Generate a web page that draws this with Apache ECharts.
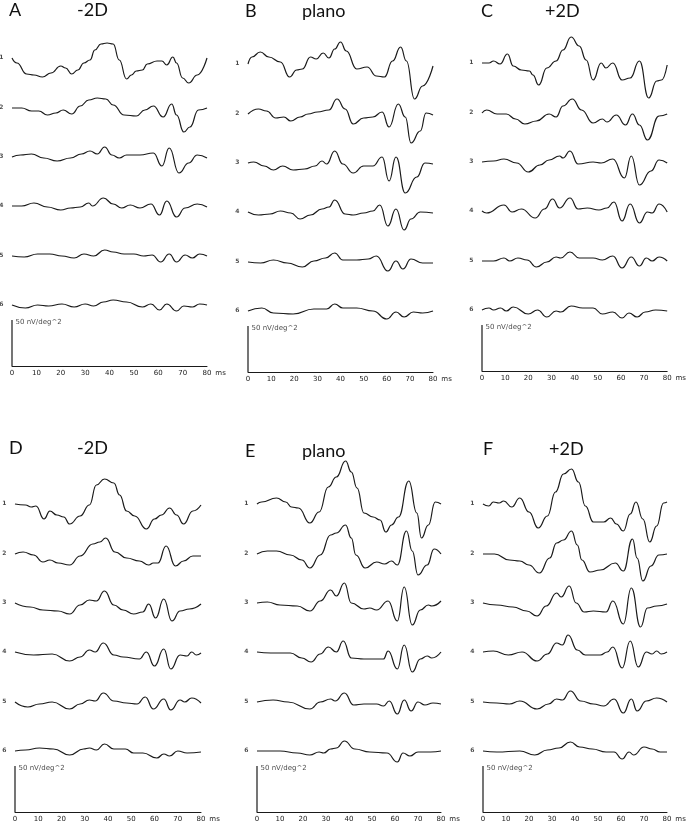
<!DOCTYPE html>
<html>
<head>
<meta charset="utf-8">
<script src="https://cdn.jsdelivr.net/npm/echarts@6/dist/echarts.min.js"></script>
<style>
  html, body { margin: 0; padding: 0; background: #fff; }
  #chart { width: 687px; height: 824px; }
</style>
</head>
<body>
<div id="chart"></div>
<script>
// tick labels on the time axis (ms)
const timeMin = 0;
const timeMax = 80;
const timeStep = 10;
const traceNames = ['1', '2', '3', '4', '5', '6'];
// height of each ring's baseline above the time axis
const traceOffsets = [308, 258, 209, 160, 110, 61];
const scaleBar = 46;
const scaleLabel = '50 nV/deg^2';

const panelLetters = ['A', 'B', 'C', 'D', 'E', 'F'];
const panelLenses = ['-2D', 'plano', '+2D', '-2D', 'plano', '+2D'];

// traces: [time ms, amplitude]
// A  -2D
const a1 = [[0,0],[2,-5],[6,-16],[9,-17],[12.5,-19],[16,-15],[20,-8],[22,-10],[24.5,-16],[27,-12],[29.5,-5],[32,-2],[34,8],[36.5,14],[39,15],[41.5,14],[44,-2],[47,-21],[49,-17],[51,-13],[53.5,-12],[55.5,-6],[59.5,-3],[61.5,-3],[63.5,-7],[66,1],[67.5,-5],[70,-20],[72.5,-25],[76,-17],[80,0]];
const a2 = [[0,0],[4,0],[8,-3],[11,-3],[14.5,-7],[18,-5],[21,-2],[24.5,-6],[28,2],[31.5,8],[35,10],[38.5,9],[41.5,3],[46,-7],[51,-8],[54.5,-2],[58,2],[62,-9],[65.5,4],[67.5,-7],[70.5,-24],[73,-19],[76.5,-2],[80,0]];
const a3 = [[0,0],[3.5,2],[8,3],[13,-1],[18.5,-4],[24,-1],[28.5,3],[32,6],[35,3],[38,10],[41,2],[44,-1],[47,2],[52.5,2],[58,4],[61.5,-9],[64.5,9],[68.5,-16],[72.5,-6],[76,2],[80,-1]];
const a4 = [[0,0],[4,0],[9,3],[14.5,-1],[20,-4],[24,-2],[28,-1],[31.5,3],[33,0],[37.5,8],[41.5,2],[45,-2],[48.5,1],[52.5,-2],[57,2],[60.5,-9],[63.5,5],[67.5,-11],[71,-2],[76,2],[80,-1]];
const a5 = [[0,0],[5,-1],[10.5,2],[15.5,2],[20.5,0],[25.5,-2],[29.5,2],[33.5,0],[38,6],[41.5,4],[46,2],[50,2],[54,0],[57.5,1],[61,-6],[64.5,2],[67.5,-6],[71,1],[74,-2],[77,2],[80,0]];
const a6 = [[0,0],[5.5,-3],[10.5,0],[15,-1],[20.5,1],[25.5,-2],[30,1],[33.5,-1],[37.5,3],[41.5,5],[47,3],[53.5,-2],[57,1],[60.5,-5],[63.5,1],[67.5,-6],[70.5,-1],[74,-2],[77,1],[80,0]];
// B  plano
const b1 = [[0,0],[1.7,7],[5.3,12],[9,7],[14,2],[18,-13],[21,-6],[23.5,-5],[27,7],[29.5,5],[32.5,11],[35,6],[37.5,15],[40,22],[42.5,13],[47,-5],[51.5,-3],[55.5,-12],[59,-13],[62.5,3],[66,17],[68.5,3],[72,-35],[75.5,-22],[80,-2]];
const b2 = [[0,0],[4.5,5],[8,3],[12,-4],[15.5,-3],[18.5,-7],[22.5,-3],[26,0],[30,2],[35,4],[38.5,15],[42,5],[45.5,-10],[50,-4],[54,-3],[58,2],[61,-13],[65,10],[68,-3],[70.5,-29],[74.5,-17],[77,1],[80,-1]];
const b3 = [[0,0],[2.5,1],[7,-3],[11,-7],[15,-3],[19.5,-7],[24.5,-6],[29,-3],[32,2],[34,-1],[37.5,12],[41,-1],[45.5,-10],[50,-3],[54,-3],[58,6],[61,-18],[64,6],[68,-30],[73,-14],[76.5,0],[80,-1]];
const b4 = [[0,0],[4.5,-3],[9.5,-2],[14,1],[18.5,-1],[22.5,-7],[27,-3],[32,3],[35,5],[37.5,12],[42,-2],[45.5,-3],[50,-1],[54,1],[57,7],[60.5,-14],[64,3],[67.5,-18],[70.5,-7],[74.5,0],[80,-1]];
const b5 = [[0,0],[5.5,-1],[11,2],[17,-1],[23.5,-5],[28.5,1],[33.5,4],[37.5,9],[41,2],[47,2],[52,3],[55.5,6],[60.5,-9],[64,1],[67,-7],[70.5,3],[75.5,-1],[80,-1]];
const b6 = [[0,0],[6,3],[11,-2],[19.5,-3],[28.5,2],[34,2],[37.5,7],[41,3],[47,3],[54,0],[60,-8],[64,-1],[67.5,-6],[71.5,-1],[75.5,-2],[80,0]];
// C  +2D
const c1 = [[0,0],[3,0],[5,2],[7.8,-1],[11,9],[13.5,-3],[17,-7],[20.5,-8],[22,-12],[24.5,-22],[28,-5],[32,2],[35,13],[38.5,26],[42,17],[45,3],[48,-17],[51.5,0],[53.5,-5],[56.5,0],[60.5,-17],[64,-15],[68,2],[72,-35],[75.5,-18],[77.5,-17],[80,-2]];
const c2 = [[0,0],[2,3],[6.5,-1],[10.5,-1],[14.5,-6],[18.5,-11],[23.5,-8],[29,-1],[32,-4],[35,7],[39,14],[43,3],[48,-10],[52,-6],[54,-9],[58,-2],[62,-12],[65,-1],[68,-12],[71.5,-27],[76.5,-3],[80,-1]];
const c3 = [[0,0],[5,1],[9.5,3],[15,-1],[20,-10],[25,-3],[29,2],[33.5,6],[35,4],[38,11],[41.5,-2],[48,0],[51.5,-1],[56.5,3],[61.5,-16],[64.5,6],[68,-23],[73,-9],[76.5,2],[80,-1]];
const c4 = [[0,0],[2,-2],[9.5,6],[13,-1],[17,2],[23,-7],[27,2],[30.5,12],[33.5,3],[38,13],[41.5,2],[45.5,3],[50.5,1],[54,3],[57,9],[60.5,-10],[64,7],[68,-12],[71.5,-1],[73.5,-2],[76.5,7],[80,-1]];
const c5 = [[0,0],[5,0],[9.5,3],[12,0],[15.5,3],[19.5,1],[23.5,-6],[28,-1],[32,4],[34,3],[38,9],[42,3],[48,3],[52,1],[56.5,5],[60.5,-7],[64.5,4],[68,-5],[71,3],[73.5,0],[76.5,4],[80,0]];
const c6 = [[0,0],[3,2],[5,0],[8,2],[10.5,-1],[13.5,3],[20,-4],[24,0],[28,-7],[32,-1],[34,-2],[38.5,4],[43.5,2],[48,2],[52,-4],[56.5,-2],[60.5,-8],[63.5,-3],[67,-7],[70.5,-2],[75,0],[80,-1]];
// D  -2D
const d1 = [[0,0],[4.5,-1],[7,-3],[9,-2],[12.5,-15],[15,-7],[18,-11],[21,-13],[23.5,-20],[28,-12],[32,-1],[35,19],[38.5,25],[42.5,21],[45,9],[48,-7],[51.5,-12],[56.5,-25],[60,-15],[63,-11],[66.5,-4],[69.5,-11],[72.5,-20],[76.5,-7],[80,-1]];
const d2 = [[0,0],[3.5,2],[8,-1],[12,-8],[15,-6],[18.5,-9],[23.5,-11],[28,-2],[33.5,10],[36.5,12],[39,16],[43,2],[48,-4],[53.5,-7],[57.5,-11],[59.5,-9],[61.5,-9],[65,8],[69,-12],[72.5,-7],[76.5,-2],[80,-2]];
const d3 = [[0,0],[6.5,-4],[12,-7],[18.5,-8],[23.5,-11],[28,-2],[32,3],[35,2],[38.5,12],[42.5,-2],[46.5,-7],[51,-11],[55,-9],[57.5,-1],[60.5,-15],[64,4],[67.5,-18],[71,-8],[75,-6],[80,-1]];
const d4 = [[0,0],[8,-3],[16,-2],[23.5,-9],[28,-5],[32,2],[34.5,0],[38,9],[42.5,-3],[46.5,-5],[53.5,-7],[56.5,0],[60,-14],[64,3],[67,-17],[71,-3],[74,-4],[76,0],[78,-3],[80,-1]];
const d5 = [[0,0],[5.5,-5],[10.5,-2],[16,0],[23.5,-7],[28,-2],[32,2],[34.5,1],[38,9],[42.5,1],[48,-1],[52.5,-2],[56,5],[59.5,-7],[64,3],[67,-8],[71,2],[73,0],[76,4],[80,-1]];
const d6 = [[0,0],[4.5,1],[10.5,3],[16.5,2],[23.5,-4],[29.5,2],[32,3],[35,1],[38.5,7],[42.5,2],[47.5,2],[51,-2],[55,-2],[61,-7],[64,-3],[66.5,-5],[70,0],[74,-2],[80,-1]];
// E  plano
const e1 = [[0,0],[2,2],[8.5,6],[12.5,2],[15,-3],[18,-4],[23,-19],[27,-8],[31,17],[34.5,27],[38.5,43],[41,32],[43.5,16],[46.5,-9],[50.5,-13],[53.5,-16],[56,-28],[58.5,-21],[61.5,-13],[66,23],[69.5,-9],[71.5,-34],[74.5,-21],[77.5,2],[80,0]];
const e2 = [[0,0],[4.5,3],[8.5,3],[14.5,-1],[19.5,-6],[23,-14],[27.5,-1],[32,19],[34.5,21],[38.5,29],[41,16],[43,-1],[47,-14],[52,-8],[55.5,-10],[58.5,-7],[61,-11],[65,23],[67.5,3],[70,-21],[74,-11],[77,5],[80,0]];
const e3 = [[0,0],[4.5,1],[10,-2],[17.5,-3],[23,-8],[27.5,2],[32,13],[34.5,7],[38,20],[41,0],[46.5,-6],[49,-5],[52,-7],[57,2],[61,-18],[64,16],[67.5,-22],[71,-7],[74.5,-2],[76,-3],[80,2]];
const e4 = [[0,0],[6,-1],[14.5,-1],[19.5,-6],[23.5,-10],[27.5,-2],[31,5],[34.5,0],[37.5,11],[41,-6],[46.5,-7],[52,-7],[55,-7],[57,1],[61,-17],[64,7],[67.5,-20],[71,-7],[74,-4],[76,-6],[80,0]];
const e5 = [[0,0],[7,2],[13.5,0],[23,-7],[27.5,0],[32,3],[34,1],[38,9],[42,-3],[46.5,-2],[52,-2],[55,-4],[57.5,1],[61,-12],[64,2],[67,-9],[70,0],[73,-3],[76.5,-1],[80,-2]];
const e6 = [[0,0],[10,0],[17.5,-2],[23,-4],[27,-1],[29,-2],[32,2],[34.5,3],[38,10],[42.5,2],[49,-1],[56.5,-2],[61,-11],[63.5,-2],[66.5,-5],[70,-1],[75.5,-1],[80,0]];
// F  +2D
const f1 = [[0,0],[2.5,-2],[4.5,2],[7,1],[9,3],[12.5,-3],[16,6],[20,-8],[24,-24],[28,-12],[31.5,12],[35,30],[38.5,35],[41.5,22],[44.5,-2],[48,-18],[52.5,-18],[55.5,-14],[58,-20],[61,-27],[64,-10],[66.5,2],[69.5,-15],[72.5,-38],[75.5,-22],[78.5,1],[80,2]];
const f2 = [[0,0],[5,0],[11.5,-6],[16,-7],[20,-11],[24.5,-19],[29,-4],[32,11],[35,14],[38.5,23],[41,9],[43,-6],[46.5,-18],[51,-16],[57.5,-9],[61,-17],[65,15],[67,-4],[69.5,-27],[73,-12],[76.5,-1],[80,0]];
const f3 = [[0,0],[6,-2],[13,-4],[19,-8],[23.5,-13],[27.5,-3],[32,10],[34,6],[37.5,17],[40.5,0],[44,-9],[48,-8],[53.5,-9],[56.5,2],[61,-21],[64.5,15],[68.5,-24],[71.5,-5],[75.5,-3],[80,-1]];
const f4 = [[0,0],[4.5,1],[11,-3],[17,0],[23.5,-9],[28,-2],[32,9],[34.5,7],[37,17],[41,2],[44.5,-3],[51,-3],[54,0],[56.5,5],[60.5,-16],[64,11],[67.5,-15],[71,0],[73.5,-2],[75.5,1],[77.5,-2],[80,0]];
const f5 = [[0,0],[6,-1],[11.5,-2],[16,1],[23.5,-7],[28.5,-2],[32,3],[34.5,2],[38,11],[42.5,1],[48,-2],[52.5,-4],[57,3],[61,-11],[64.5,3],[67,-9],[71,1],[75.5,4],[80,0]];
const f6 = [[0,0],[6,-1],[16,0],[22.5,-4],[28,1],[33,3],[38,9],[42,4],[47.5,2],[53.5,-1],[57,-1],[60.5,-8],[63.5,-1],[65.5,-4],[70,4],[73.5,2],[77,-1],[80,-1]];

const panelTraces = [
  [a1, a2, a3, a4, a5, a6],
  [b1, b2, b3, b4, b5, b6],
  [c1, c2, c3, c4, c5, c6],
  [d1, d2, d3, d4, d5, d6],
  [e1, e2, e3, e4, e5, e6],
  [f1, f2, f3, f4, f5, f6]
];

// pixel layout of each panel (plot box) and its heading
const layout = [
  { left: 12,  right: 480, bottom: 458, titleTop: 1,   letterX: 9,   lensX: 77 },
  { left: 248, right: 254, bottom: 452, titleTop: 2,   letterX: 245, lensX: 302 },
  { left: 482, right: 18,  bottom: 453, titleTop: 2,   letterX: 481, lensX: 545 },
  { left: 15,  right: 486, bottom: 12,  titleTop: 439, letterX: 9,   lensX: 77 },
  { left: 257, right: 246, bottom: 12,  titleTop: 442, letterX: 245, lensX: 302 },
  { left: 483, right: 20,  bottom: 12,  titleTop: 440, letterX: 483, lensX: 549 }
];
const plotHeight = 360;

const ink = '#1a1a1a';
const smallFont = 'DejaVu Sans';

const grid = [], xAxis = [], yAxis = [], title = [], series = [];

layout.forEach(function (p, i) {
  grid.push({ left: p.left, right: p.right, bottom: p.bottom, height: plotHeight });
  xAxis.push({
    gridIndex: i, type: 'value', min: timeMin, max: timeMax, interval: timeStep,
    axisLine: { show: true, lineStyle: { color: ink, width: 1 } },
    axisTick: { show: false },
    splitLine: { show: false },
    axisLabel: { fontSize: 7, fontFamily: smallFont, color: ink, margin: 4 },
    name: 'ms', nameLocation: 'end', nameGap: 6,
    nameTextStyle: { fontSize: 7, fontFamily: smallFont, color: ink, verticalAlign: 'top', padding: [4, 0, 0, 0] }
  });
  yAxis.push({ gridIndex: i, type: 'value', min: 0, max: plotHeight, show: false });

  title.push({
    text: panelLetters[i], left: p.letterX, top: p.titleTop, padding: 0,
    textStyle: { fontFamily: 'Lato', fontSize: 18, fontWeight: 'normal', color: '#111' }
  });
  title.push({
    text: panelLenses[i], left: p.lensX, top: p.titleTop, padding: 0,
    textStyle: { fontFamily: 'Lato', fontSize: 18, fontWeight: 'normal', color: '#111' }
  });

  panelTraces[i].forEach(function (trace, j) {
    series.push({
      type: 'line', xAxisIndex: i, yAxisIndex: i,
      data: trace.map(function (pt) { return [pt[0], traceOffsets[j] + pt[1]]; }),
      showSymbol: false, smooth: 0.5, smoothMonotone: 'x', clip: false,
      lineStyle: { color: ink, width: 1.2 }, silent: true
    });
  });

  // scale bar
  series.push({
    type: 'line', xAxisIndex: i, yAxisIndex: i,
    data: [[timeMin, 0], [timeMin, scaleBar]],
    showSymbol: false, lineStyle: { color: ink, width: 1.2 }, silent: true
  });
  // ring numbers and scale label
  series.push({
    type: 'scatter', xAxisIndex: i, yAxisIndex: i, symbolSize: 1,
    itemStyle: { color: 'rgba(0,0,0,0)' }, silent: true,
    data: traceOffsets.map(function (o, j) {
      return { value: [timeMin, o], name: traceNames[j] };
    }),
    label: {
      show: true, position: 'left', distance: 8, formatter: '{b}',
      fontSize: 6, fontWeight: 'bold', fontFamily: smallFont, color: ink, offset: [0, -1]
    }
  });
  series.push({
    type: 'scatter', xAxisIndex: i, yAxisIndex: i, symbolSize: 1,
    itemStyle: { color: 'rgba(0,0,0,0)' }, silent: true,
    data: [{ value: [timeMin, scaleBar], name: scaleLabel }],
    label: {
      show: true, position: 'right', distance: 3, formatter: '{b}',
      fontSize: 7, fontFamily: smallFont, color: ink, offset: [0, 2]
    }
  });
});

const chart = echarts.init(document.getElementById('chart'), null, { renderer: 'canvas' });
chart.setOption({
  backgroundColor: '#fff',
  animation: false,
  title: title,
  grid: grid,
  xAxis: xAxis,
  yAxis: yAxis,
  series: series
});
</script>
</body>
</html>
